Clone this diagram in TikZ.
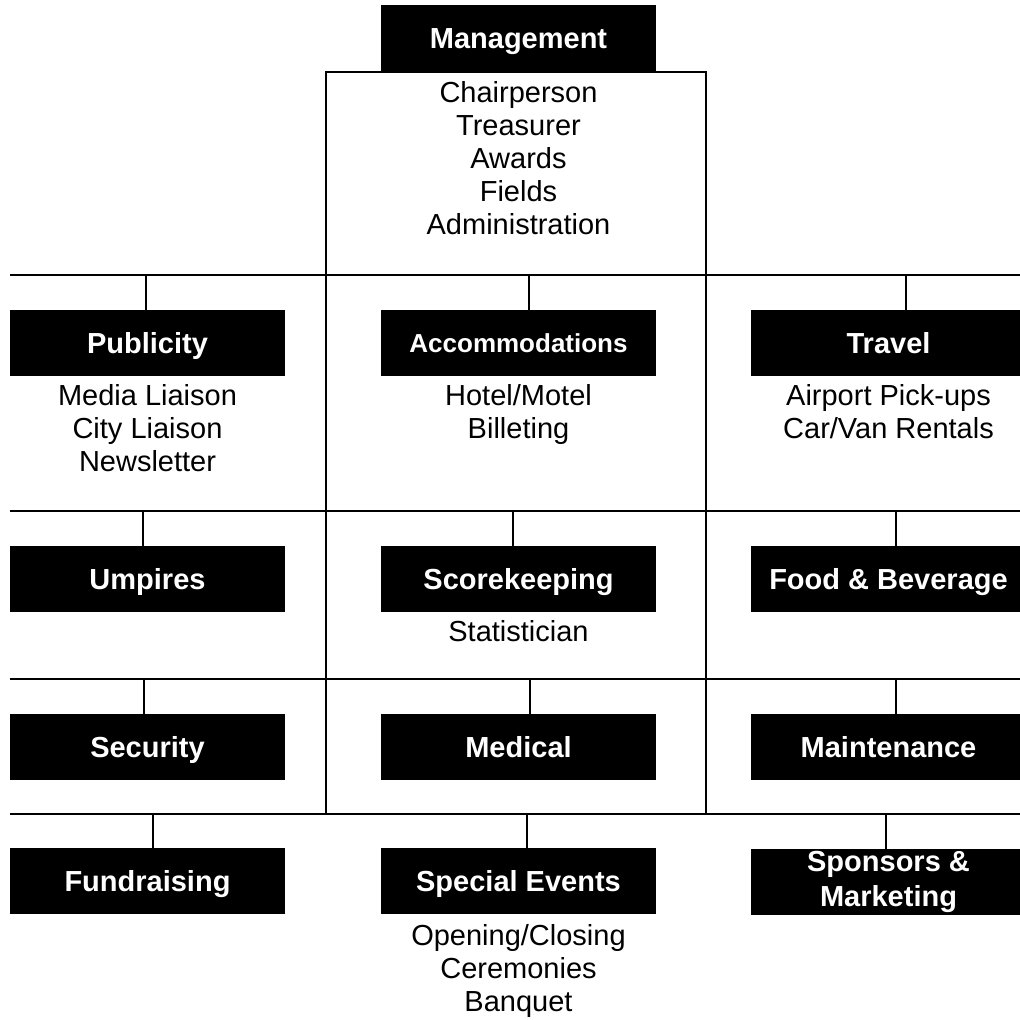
\documentclass[tikz,border=0pt]{standalone}
\usepackage{fontspec}
\setmainfont{Liberation Sans}
\usetikzlibrary{positioning}

\begin{document}
\begin{tikzpicture}[x=0.5pt, y=-0.5pt,
    unit/.style={fill=black, text=white, font=\fontsize{14.5}{16.5}\selectfont\bfseries,
        minimum width=137.5pt, minimum height=33pt, inner sep=0pt, align=center},
    unitone/.style={unit, text height=10.4pt, text depth=0pt},
    duties/.style={font=\fontsize{14.5}{16.5}\selectfont, inner sep=0pt, align=center},
    bus/.style={line width=1pt},
    drop/.style={line width=0.8pt}]
    \useasboundingbox (0,0) rectangle (1020,1019);

    \foreach \y in {275,511,679,814}
        \draw[bus] (10,\y) -- (1020,\y);
    \draw[bus] (326,814) -- (326,72) -- (706,72) -- (706,814);

    \node[unitone] (mgmt) at (518.5,38) {Management};
    \node[duties, below=5pt of mgmt] (mgmtlist) {Chairperson\\Treasurer\\Awards\\Fields\\Administration};

    \node[unitone] (pub) at (147.5,343) {Publicity};
    \node[unitone, font=\fontsize{13}{15}\selectfont\bfseries, text height=9.3pt] (acc) at (518.5,343) {Accommodations};
    \node[unitone] (trav) at (888.5,343) {Travel};
    \node[duties, below=4pt of pub] (publist) {Media Liaison\\City Liaison\\Newsletter};
    \node[duties, below=4pt of acc] (acclist) {Hotel/Motel\\Billeting};
    \node[duties, below=4pt of trav] (travlist) {Airport Pick-ups\\Car/Van Rentals};

    \node[unitone] (ump) at (147.5,579) {Umpires};
    \node[unitone] (score) at (518.5,579) {Scorekeeping};
    \node[unitone] (food) at (888.5,579) {Food \& Beverage};
    \node[duties, below=4pt of score] (scorelist) {Statistician};

    \node[unitone] (sec) at (147.5,747) {Security};
    \node[unitone] (med) at (518.5,747) {Medical};
    \node[unitone] (maint) at (888.5,747) {Maintenance};

    \node[unitone] (fund) at (147.5,881) {Fundraising};
    \node[unitone] (spec) at (518.5,881) {Special Events};
    \node[unit, font=\fontsize{14.5}{17.5}\selectfont\bfseries] (spons) at (888.5,882) {Sponsors \&\\Marketing};
    \node[duties, below=4.6pt of spec] (speclist) {Opening/Closing\\Ceremonies\\Banquet};

    \foreach \x/\n/\y in {146/pub/275, 529/acc/275, 906/trav/275,
                          143/ump/511, 513/score/511, 896/food/511,
                          144/sec/679, 530/med/679, 896/maint/679,
                          153/fund/814, 527/spec/814, 886/spons/814}
    {
        \coordinate (tap) at (\x,\y);
        \draw[drop] (tap) -- (tap |- \n.north);
    }
\end{tikzpicture}
\end{document}
